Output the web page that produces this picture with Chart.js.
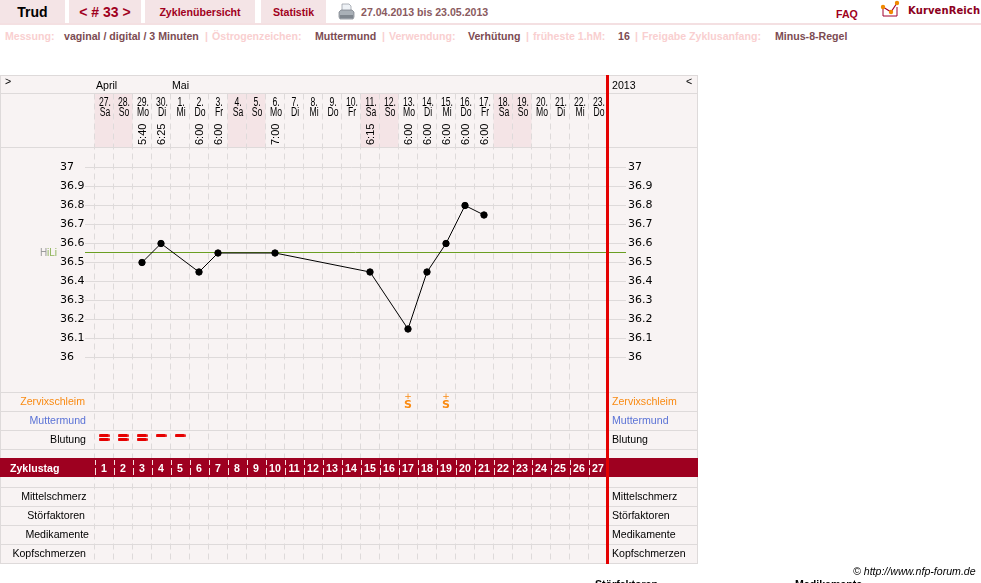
<!DOCTYPE html>
<html>
<head>
<meta charset="utf-8">
<title>Trud # 33</title>
<script src="https://cdn.jsdelivr.net/npm/chart.js@4/dist/chart.umd.js"></script>
<style>
html, body { margin:0; padding:0; background:#fff; overflow:hidden; width:981px; height:583px; }
body { position:relative; font:bold 10.6px "Liberation Sans", Arial, sans-serif; }
.tab { position:absolute; top:0; height:23px; background:#f4e4e6; color:#a00020; text-align:center; line-height:24px; }
.rule { position:absolute; left:0; top:23px; width:981px; height:2px; background:#f4e0e2; }
.t { position:absolute; white-space:nowrap; line-height:13px; }
.off { color:#f9cfd0; top:30px; }
.on { color:#7c4b52; top:30px; }
#chartTemp { position:absolute; left:0; top:0; }
</style>
</head>
<body>
<div class="tab" style="left:0;width:65px;color:#000;font-size:14px">Trud</div>
<div class="tab" style="left:69px;width:72px;font-size:14px">&lt; # 33 &gt;</div>
<div class="tab" style="left:145px;width:110px">Zyklenübersicht</div>
<div class="tab" style="left:261px;width:65px">Statistik</div>
<div class="rule"></div>

<svg style="position:absolute;left:338px;top:3px" width="17" height="18" viewBox="0 0 17 18">
  <path d="M4 1h7l2 2v6H4z" fill="#eef2f6" stroke="#8f979f" stroke-width="0.7"/>
  <path d="M1 9l2-2h11l2 2v5l-1 2H2l-1-2z" fill="#a9b0b7" stroke="#767d85" stroke-width="0.7"/>
  <rect x="2" y="12" width="13" height="3" fill="#7f868e"/>
</svg>
<div class="t" style="left:361px;top:6px;color:#8a5a60">27.04.2013 bis 23.05.2013</div>
<div class="t" style="left:836px;top:8px;color:#a00020">FAQ</div>
<svg style="position:absolute;left:880px;top:0" width="24" height="19" viewBox="0 0 24 19">
  <path d="M3 7v9h14V7" fill="none" stroke="#a00030" stroke-width="1"/>
  <path d="M3 7l8 5 6-9" fill="none" stroke="#a00030" stroke-width="1.2"/>
  <circle cx="3" cy="7" r="2.2" fill="#f08a00"/><circle cx="11" cy="12" r="2.2" fill="#f08a00"/><circle cx="17" cy="3" r="2.2" fill="#f08a00"/>
</svg>
<div class="t" style="left:908px;top:5px;color:#8c0020;font:bold 10px 'DejaVu Sans';letter-spacing:0.1px">KurvenReich</div>

<div class="t off" style="left:5px">Messung:</div>
<div class="t on" style="left:64px">vaginal / digital / 3 Minuten</div>
<div class="t off" style="left:205px">|</div>
<div class="t off" style="left:212px">Östrogenzeichen:</div>
<div class="t on" style="left:315px">Muttermund</div>
<div class="t off" style="left:382px">|</div>
<div class="t off" style="left:389px">Verwendung:</div>
<div class="t on" style="left:468px">Verhütung</div>
<div class="t off" style="left:526px">|</div>
<div class="t off" style="left:533px">früheste 1.hM:</div>
<div class="t on" style="left:618px">16</div>
<div class="t off" style="left:635px">|</div>
<div class="t off" style="left:642px">Freigabe Zyklusanfang:</div>
<div class="t on" style="left:775px">Minus-8-Regel</div>

<canvas id="chartTemp" width="981" height="583"></canvas>

<div class="t" style="left:853px;top:565px;color:#000;font:italic 10.6px 'Liberation Sans'">© http://www.nfp-forum.de</div>
<div class="t" style="left:595px;top:578px;color:#000">Störfaktoren</div>
<div class="t" style="left:795px;top:578px;color:#000">Medikamente</div>

<script>
// cycle data
const cycleDays = ['1','2','3','4','5','6','7','8','9','10','11','12','13','14','15','16','17','18','19','20','21','22','23','24','25','26','27'];
const dateNums = ['27.','28.','29.','30.','1.','2.','3.','4.','5.','6.','7.','8.','9.','10.','11.','12.','13.','14.','15.','16.','17.','18.','19.','20.','21.','22.','23.'];
const weekDays = ['Sa','So','Mo','Di','Mi','Do','Fr','Sa','So','Mo','Di','Mi','Do','Fr','Sa','So','Mo','Di','Mi','Do','Fr','Sa','So','Mo','Di','Mi','Do'];
const times = ['','','5:40','6:25','','6:00','6:00','','','7:00','','','','','6:15','','6:00','6:00','6:00','6:00','6:00','','','','','',''];
const temps = [null,null,36.5,36.6,null,36.45,36.55,null,null,36.55,null,null,null,null,36.45,null,36.15,36.45,36.6,36.8,36.75,null,null,null,null,null,null];
const tempTicks = [37,36.9,36.8,36.7,36.6,36.5,36.4,36.3,36.2,36.1,36];
const coverLine = 36.55;
const mucus = [null,null,null,null,null,null,null,null,null,null,null,null,null,null,null,null,'S+',null,'S+',null,null,null,null,null,null,null,null];
// 2 = strong, 1 = light
const bleeding = [2,2,2,1,1];

const rowsUpper = [['Zervixschleim','#f98a12',85],['Muttermund','#5b73d6',86],['Blutung','#000',86]];
const rowsLower = [['Mittelschmerz','#000',86.5],['Störfaktoren','#000',85],['Medikamente','#000',89],['Kopfschmerzen','#000',86]];

const GRID = '#dedada';
const PANEL = '#f8f3f3';
const BAND = '#9e0020';

// pill shaped marker for the bleeding row
const pill = document.createElement('canvas');
pill.width = 11; pill.height = 3;
{
  const p = pill.getContext('2d');
  p.fillStyle = '#e60000';
  p.beginPath();
  p.roundRect(0, 0, 11, 3, 1.5);
  p.fill();
}

function fixedTicks(axis) {
  axis.ticks = tempTicks.map(v => ({value: v}));
}

const sheet = {
  id: 'sheet',
  beforeDraw(chart) {
    const c = chart.ctx, x = chart.scales.x, y = chart.scales.y;
    c.save();
    c.fillStyle = PANEL;
    c.fillRect(0, 75, 698, 489);
    // weekend columns of the date header
    c.fillStyle = '#f4e4e6';
    weekDays.forEach((d, i) => {
      if (d == 'Sa' || d == 'So') c.fillRect(x.getPixelForValue(i) - 9.5, 94, 19, 53.5);
    });
    // frame and row lines
    c.strokeStyle = GRID;
    c.lineWidth = 1;
    c.beginPath();
    [75.5,93.5,147.5,392.5,411.5,430.5,449.5,487.5,506.5,525.5,544.5,563.5].forEach(py => {
      c.moveTo(0, py); c.lineTo(698, py);
    });
    c.moveTo(0.5, 75); c.lineTo(0.5, 564);
    c.moveTo(697.5, 75); c.lineTo(697.5, 564);
    c.stroke();
    // coverline
    const hy = Math.floor(y.getPixelForValue(coverLine)) - 0.5;
    c.strokeStyle = '#6a9e22';
    c.beginPath(); c.moveTo(85, hy); c.lineTo(626, hy); c.stroke();
    c.restore();
  },
  beforeDatasetsDraw(chart) {
    const c = chart.ctx, x = chart.scales.x;
    c.save();
    // Zyklustag band sits over the column grid
    c.fillStyle = BAND;
    c.fillRect(0, 458, 698, 19);
    c.strokeStyle = '#f6dede';
    c.setLineDash([5,3,7,99]);
    c.beginPath();
    cycleDays.forEach((d, i) => {
      const px = Math.round(x.getPixelForValue(i) - 9.5) + 0.5;
      c.moveTo(px, 460); c.lineTo(px, 477);
    });
    c.stroke();
    c.setLineDash([]);

    c.textBaseline = 'alphabetic';
    c.fillStyle = '#fff';
    c.textAlign = 'center';
    c.font = 'bold 10.6px "Liberation Sans"';
    cycleDays.forEach((d, i) => c.fillText(d, x.getPixelForValue(i), 471.5));
    c.textAlign = 'left';
    c.fillText('Zyklustag', 10, 471.5);

    c.fillStyle = '#000';
    c.font = '10.6px "Liberation Sans"';
    c.fillText('>', 5, 85);
    c.fillText('April', 96, 89);
    c.fillText('Mai', 172, 89);
    c.fillText('2013', 612, 89);
    c.fillText('<', 686, 85);

    // dates, squeezed to fit the narrow columns
    c.font = '12px "Liberation Sans"';
    dateNums.forEach((d, i) => {
      const px = x.getPixelForValue(i) + 1;
      c.save();
      c.translate(px, 0);
      c.scale(0.72, 1);
      c.textAlign = 'center';
      c.fillText(d, 0, 106);
      c.fillText(weekDays[i], 0, 115.5);
      c.restore();
    });
    // measuring times, rotated
    c.font = '11px "Liberation Sans"';
    times.forEach((t, i) => {
      if (!t) return;
      c.save();
      c.translate(x.getPixelForValue(i) + 3.5, 145);
      c.rotate(-Math.PI / 2);
      c.fillText(t, 0, 0);
      c.restore();
    });

    c.font = '10px "Liberation Sans"';
    c.fillStyle = '#9a9a9a';
    c.fillText('H', 40, 256);
    c.fillStyle = '#8fb45a';
    c.fillText('iLi', 47, 256);

    // row captions
    c.font = '10.6px "Liberation Sans"';
    const caption = (row, py) => {
      c.fillStyle = row[1];
      c.textAlign = 'right';
      c.fillText(row[0], row[2], py);
      c.textAlign = 'left';
      c.fillText(row[0], 612, py);
    };
    rowsUpper.forEach((r, i) => caption(r, 405 + i * 19));
    rowsLower.forEach((r, i) => caption(r, 500 + i * 19));

    // cervical mucus marks
    c.fillStyle = '#f98a12';
    c.textAlign = 'center';
    mucus.forEach((m, i) => {
      if (!m) return;
      const px = x.getPixelForValue(i);
      c.font = '9px "DejaVu Sans"';
      c.fillText('+', px, 398.5);
      c.font = 'bold 11px "DejaVu Sans"';
      c.fillText('S', px, 408);
    });
    c.restore();
  },
  afterDraw(chart) {
    const c = chart.ctx;
    c.save();
    c.fillStyle = '#e40000';
    c.fillRect(606, 75, 3, 489);
    c.restore();
  }
};

new Chart(document.getElementById('chartTemp').getContext('2d'), {
  data: {
    labels: cycleDays,
    datasets: [
      {
        type: 'line',
        label: 'Temperatur',
        data: temps,
        yAxisID: 'y',
        borderColor: '#000',
        backgroundColor: '#000',
        borderWidth: 1,
        pointRadius: 3.2,
        spanGaps: true,
        tension: 0
      },
      {
        // upper bar: every bleeding day
        type: 'line',
        label: 'Blutung',
        data: bleeding.map(() => 2.26),
        yAxisID: 'yRows',
        showLine: false,
        pointStyle: pill
      },
      {
        // lower bar: strong days only
        type: 'line',
        label: 'Blutung stark',
        data: bleeding.map(b => b > 1 ? 2.45 : null),
        yAxisID: 'yRows',
        showLine: false,
        pointStyle: pill
      }
    ]
  },
  plugins: [sheet],
  options: {
    responsive: false,
    animation: false,
    events: [],
    layout: {
      autoPadding: false,
      padding: {left: 60, right: 283.5, top: 93.5, bottom: 19.5}
    },
    plugins: {legend: {display: false}, title: {display: false}, tooltip: {enabled: false}},
    scales: {
      x: {
        type: 'category',
        offset: true,
        afterFit(s) { s.height = 0; },
        grid: {color: GRID, offset: true, drawTicks: false},
        border: {display: false, dash: [6,4]},
        ticks: {display: false, autoSkip: false, maxRotation: 0}
      },
      y: {
        position: 'left',
        min: 34.9158,
        max: 37.3895,
        afterBuildTicks: fixedTicks,
        afterFit(s) { s.width = 34.5; },
        grid: {color: GRID, tickColor: GRID, tickLength: 9.5},
        border: {display: false},
        ticks: {
          crossAlign: 'far',
          padding: 2,
          color: '#000',
          font: {family: '"DejaVu Sans"', size: 11},
          callback: v => String(v)
        }
      },
      yRight: {
        position: 'right',
        min: 34.9158,
        max: 37.3895,
        afterBuildTicks: fixedTicks,
        afterFit(s) { s.width = 90; },
        grid: {drawOnChartArea: false, tickColor: GRID, tickLength: 18.5},
        border: {display: false},
        ticks: {
          padding: 2,
          color: '#000',
          font: {family: '"DejaVu Sans"', size: 11},
          callback: v => String(v)
        }
      },
      // row units for the strips below the curve, 0 = top of Zervixschleim
      yRows: {
        display: false,
        reverse: true,
        min: -15.789,
        max: 9
      }
    }
  }
});
</script>
</body>
</html>
